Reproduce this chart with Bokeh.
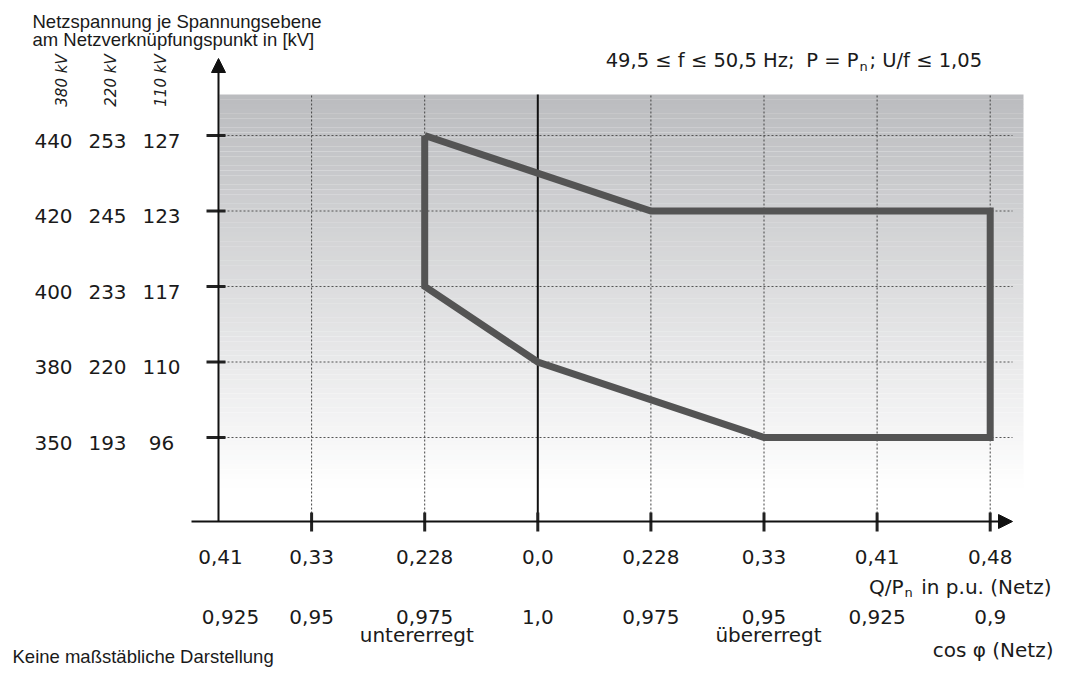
import math
from bokeh.plotting import figure
from bokeh.models import Range1d, Arrow, NormalHead
from bokeh.core.properties import value
from bokeh.embed import file_html
from bokeh.resources import INLINE

# ---------------- data ----------------
q_labels = ["0,41", "0,33", "0,228", "0,0", "0,228", "0,33", "0,41", "0,48"]
cos_labels = ["0,925", "0,95", "0,975", "1,0", "0,975", "0,95", "0,925", "0,9"]
v_380 = [350, 380, 400, 420, 440]
v_220 = [193, 220, 233, 245, 253]
v_110 = [96, 110, 117, 123, 127]
level_names = ["380 kV", "220 kV", "110 kV"]
# polygon: x = index of Q tick, y = voltage level (380 kV column)
poly_q_idx = [2, 4, 7, 7, 5, 3, 2, 2]
poly_v380 = [440, 420, 420, 350, 350, 380, 400, 440]

# ---------------- layout ----------------
W, H = 1057, 672
PX0, SX = 650.4, 113.1   # px of tick index 4, px per tick
PY0, SY = 437.0, 75.5    # px of level 0, px per level


def X(px):
    return 4 + (px - PX0) / SX


def Y(py):
    return (PY0 - py) / SY


p = figure(width=W, height=H, output_backend="svg", toolbar_location=None,
           x_range=Range1d(X(0), X(W)), y_range=Range1d(Y(H), Y(0)),
           x_axis_location=None, y_axis_location=None, min_border=0,
           outline_line_color=None, background_fill_color="white",
           border_fill_color="white")
p.grid.visible = False

lvl = {v: i for i, v in enumerate(v_380)}
n_lv = len(v_380)
tick_idx = list(range(1, len(q_labels)))

# gradient background
top_px, bot_px = 94.0, 521.0
n = 90
lefts, rights, tops, bots, cols = [], [], [], [], []
for i in range(n):
    y0 = top_px + (bot_px - top_px) * i / n
    y1 = top_px + (bot_px - top_px) * (i + 1) / n
    t = min(1.0, (i + 0.5) / n * 1.08)
    r = int(round(187 + (255 - 187) * t))
    g = int(round(188 + (255 - 188) * t))
    b = int(round(191 + (255 - 191) * t))
    lefts.append(X(219)); rights.append(X(1023))
    tops.append(Y(y0)); bots.append(Y(y1) - 0.002)
    cols.append("#%02x%02x%02x" % (r, g, b))
p.quad(left=lefts, right=rights, top=tops, bottom=bots, fill_color=cols,
       line_color=None)

# horizontal dotted grid
for i in range(n_lv):
    p.line([X(219), X(1012)], [i, i], line_color="#555555", line_width=1,
           line_dash="2 2")
# vertical dotted grid
for k in tick_idx:
    if q_labels[k] == "0,0":
        continue
    p.line([k, k], [Y(95), Y(513)], line_color="#444444", line_width=1,
           line_dash="2 2")
# zero line
k0 = q_labels.index("0,0")
p.line([k0, k0], [Y(94), Y(521)], line_color="#111111", line_width=2)

# axes with arrows
p.add_layout(Arrow(end=NormalHead(size=14, fill_color="#111111", line_color="#111111"),
                   x_start=X(191), y_start=Y(521), x_end=X(1012), y_end=Y(521),
                   line_color="#111111", line_width=2))
p.add_layout(Arrow(end=NormalHead(size=14, fill_color="#111111", line_color="#111111"),
                   x_start=X(218), y_start=Y(521), x_end=X(218), y_end=Y(58),
                   line_color="#111111", line_width=2))

# ticks
for k in tick_idx:
    p.line([k, k], [Y(512), Y(531)], line_color="#222222", line_width=3)
for i in range(n_lv):
    p.line([X(206), X(225)], [i, i], line_color="#222222", line_width=3)

# capability polygon
p.line(poly_q_idx, [lvl[v] for v in poly_v380], line_color="#545454",
       line_width=7, line_join="miter")

# ---------------- texts ----------------
VF = value("DejaVu Sans")
AF = value("Liberation Sans")
TC = "#1a1a1a"
FS = "20px"

# y tick labels
off = 5 / SY
for col_x, vals in zip([53, 107, 161], [v_380, v_220, v_110]):
    p.text(x=[X(col_x)] * n_lv, y=[i - off for i in range(n_lv)],
           text=[str(v) for v in vals], text_font=VF, text_font_size=FS,
           text_align="center", text_baseline="middle", text_color=TC)

# rotated level names
p.text(x=[X(61), X(110), X(160)], y=[Y(80)] * 3, text=level_names,
       text_font=VF, text_font_size="15px", text_font_style="italic",
       angle=math.pi / 2, text_align="center", text_baseline="middle",
       text_color=TC)

# title
p.text(x=[X(32), X(32)], y=[Y(21), Y(39)],
       text=["Netzspannung je Spannungsebene", "am Netzverknüpfungspunkt in [kV]"],
       text_font=AF, text_font_size="18.5px", text_align="left",
       text_baseline="alphabetic", text_color=TC)

# x labels
qx = [X(220)] + tick_idx
cx = [X(230)] + tick_idx
p.text(x=qx, y=[Y(556)] * len(qx), text=q_labels, text_font=VF,
       text_font_size=FS, text_align="center", text_baseline="middle",
       text_color=TC)
p.text(x=cx, y=[Y(616)] * len(cx), text=cos_labels, text_font=VF,
       text_font_size=FS, text_align="center", text_baseline="middle",
       text_color=TC)
p.text(x=[2 - 0.07, 5 + 0.04], y=[Y(634)] * 2, text=["untererregt", "übererregt"],
       text_font=VF, text_font_size=FS, text_align="center",
       text_baseline="middle", text_color=TC)

# Q/Pn label
p.text(x=[X(903)], y=[Y(586)], text=["Q/P"], text_font=VF, text_font_size=FS,
       text_align="right", text_baseline="middle", text_color=TC)
p.text(x=[X(904)], y=[Y(592)], text=["n"], text_font=VF, text_font_size="13px",
       text_align="left", text_baseline="middle", text_color=TC)
p.text(x=[X(1051)], y=[Y(586)], text=["in p.u. (Netz)"], text_font=VF,
       text_font_size=FS, text_align="right", text_baseline="middle",
       text_color=TC)
p.text(x=[X(1053)], y=[Y(649)], text=["cos φ (Netz)"], text_font=VF,
       text_font_size=FS, text_align="right", text_baseline="middle",
       text_color=TC)

# condition text
CS = "19.5px"
p.text(x=[X(794)], y=[Y(60)], text=["49,5 ≤ f ≤ 50,5 Hz;"], text_font=VF,
       text_font_size=CS, text_align="right", text_baseline="middle",
       text_color=TC)
p.text(x=[X(858)], y=[Y(60)], text=["P = P"], text_font=VF,
       text_font_size=CS, text_align="right", text_baseline="middle",
       text_color=TC)
p.text(x=[X(859)], y=[Y(66)], text=["n"], text_font=VF, text_font_size="13px",
       text_align="left", text_baseline="middle", text_color=TC)
p.text(x=[X(869)], y=[Y(60)], text=["; U/f ≤ 1,05"], text_font=VF,
       text_font_size=CS, text_align="left", text_baseline="middle",
       text_color=TC)

# footnote
p.text(x=[X(12)], y=[Y(656)], text=["Keine maßstäbliche Darstellung"], text_font=AF,
       text_font_size="18.5px", text_align="left", text_baseline="middle",
       text_color=TC)

open("out.html", "w").write(file_html(p, INLINE))
